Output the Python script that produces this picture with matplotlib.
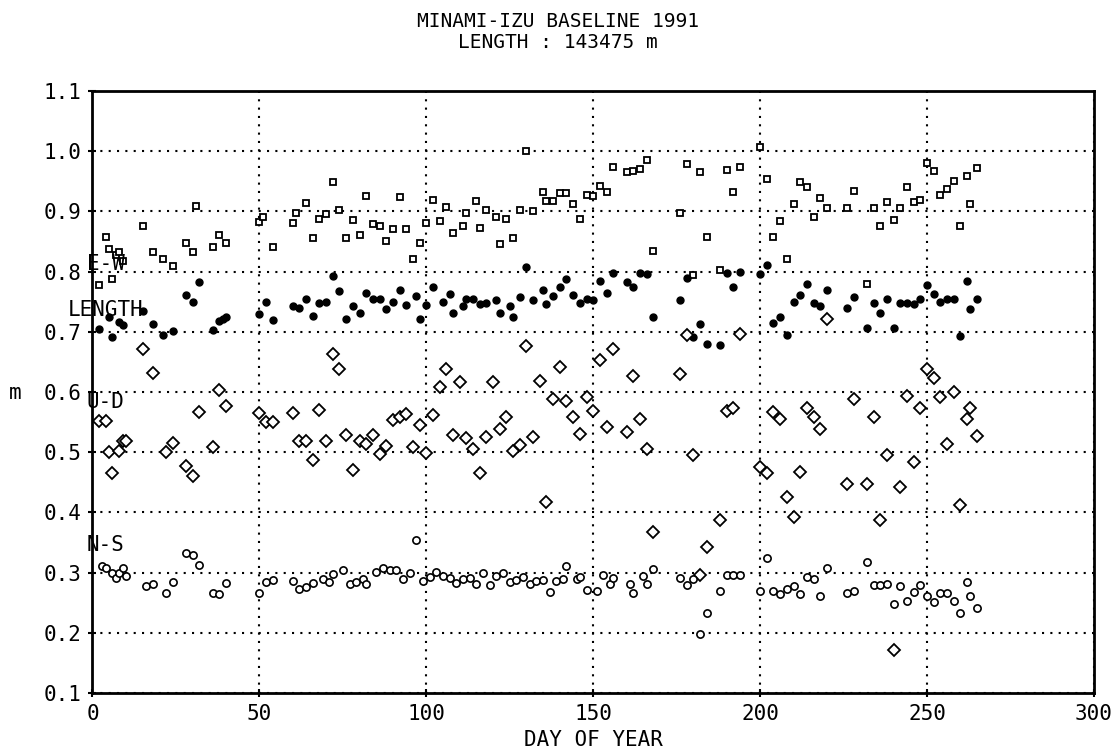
import matplotlib
matplotlib.use("Agg")
from matplotlib import pyplot as plt

# E-W (open squares)
ew_day = [2, 4, 5, 6, 7, 8, 9, 15, 18, 21, 24, 28, 30, 31, 36, 38, 40,
          50, 51, 54, 60, 61, 64, 66, 68, 70, 72, 74, 76, 78, 80, 82, 84, 86,
          88, 90, 92, 94, 96, 98, 100, 102, 104, 106, 108, 111, 112, 115, 116,
          118, 121, 122, 124, 126, 128, 130, 132, 135, 136, 138, 140, 142, 144,
          146, 148, 150, 152, 154, 156, 160, 162, 164, 166, 168, 176, 178, 180,
          182, 184, 188, 190, 192, 194, 200, 202, 204, 206, 208, 210, 212, 214,
          216, 218, 220, 226, 228, 232, 234, 236, 238, 240, 242, 244, 246, 248,
          250, 252, 254, 256, 258, 260, 262, 263, 265]
ew_val = [0.778, 0.858, 0.838, 0.788, 0.828, 0.832, 0.817, 0.875, 0.832, 0.821,
          0.810, 0.847, 0.833, 0.909, 0.841, 0.861, 0.847,
          0.883, 0.890, 0.840, 0.880, 0.898, 0.914, 0.856, 0.887, 0.896, 0.949,
          0.902, 0.855, 0.886, 0.861, 0.926, 0.879, 0.876,
          0.851, 0.871, 0.924, 0.871, 0.821, 0.848, 0.881, 0.918, 0.884, 0.908,
          0.864, 0.876, 0.897, 0.917, 0.872,
          0.902, 0.890, 0.845, 0.887, 0.855, 0.902, 1.000, 0.900, 0.932, 0.917,
          0.917, 0.931, 0.930, 0.912,
          0.888, 0.927, 0.925, 0.942, 0.932, 0.973, 0.965, 0.967, 0.970, 0.985,
          0.834, 0.897, 0.978, 0.795,
          0.965, 0.857, 0.803, 0.968, 0.932, 0.973, 1.006, 0.953, 0.858, 0.884,
          0.821, 0.913, 0.949, 0.941,
          0.890, 0.922, 0.905, 0.905, 0.934, 0.780, 0.905, 0.875, 0.915, 0.886,
          0.905, 0.940, 0.916, 0.918,
          0.981, 0.967, 0.927, 0.937, 0.950, 0.875, 0.959, 0.912, 0.972]

# LENGTH (filled circles)
len_day = [2, 5, 6, 8, 9, 15, 18, 21, 24, 28, 30, 32, 36, 38, 39, 40, 50, 52,
           54, 60, 62, 64, 66, 68, 70, 72, 74, 76, 78, 80, 82, 84, 86, 88, 90,
           92, 94, 97, 98, 100, 102, 105, 107, 108, 111, 112, 114, 116, 118,
           121, 122, 125, 126, 128, 130, 132, 135, 136, 138, 140, 142, 144, 146,
           148, 150, 152, 154, 156, 160, 162, 164, 166, 168, 176, 178, 180, 182,
           184, 188, 190, 192, 194, 200, 202, 204, 206, 208, 210, 212, 214, 216,
           218, 220, 226, 228, 232, 234, 236, 238, 240, 242, 244, 246, 248, 250,
           252, 254, 256, 258, 260, 262, 263, 265]
len_val = [0.705, 0.725, 0.692, 0.717, 0.711, 0.735, 0.713, 0.695, 0.701, 0.761,
           0.750, 0.782, 0.703, 0.718, 0.721, 0.724, 0.729, 0.750,
           0.720, 0.742, 0.739, 0.754, 0.726, 0.748, 0.750, 0.792, 0.768, 0.722,
           0.742, 0.732, 0.764, 0.755, 0.755, 0.738, 0.750,
           0.769, 0.745, 0.759, 0.722, 0.745, 0.775, 0.750, 0.762, 0.731, 0.742,
           0.755, 0.755, 0.746, 0.748,
           0.752, 0.731, 0.743, 0.725, 0.758, 0.808, 0.753, 0.769, 0.746, 0.759,
           0.774, 0.788, 0.761, 0.748,
           0.755, 0.753, 0.784, 0.765, 0.797, 0.783, 0.775, 0.797, 0.796, 0.725,
           0.753, 0.790, 0.691, 0.713,
           0.680, 0.678, 0.797, 0.774, 0.800, 0.796, 0.811, 0.714, 0.724, 0.694,
           0.749, 0.761, 0.779, 0.748,
           0.743, 0.769, 0.740, 0.757, 0.706, 0.748, 0.731, 0.755, 0.707, 0.748,
           0.748, 0.746, 0.755, 0.777,
           0.763, 0.750, 0.754, 0.754, 0.693, 0.785, 0.738, 0.754]

# U-D (open diamonds)
ud_day = [2, 4, 5, 6, 8, 9, 10, 15, 18, 22, 24, 28, 30, 32, 36, 38, 40, 50,
          52, 54, 60, 62, 64, 66, 68, 70, 72, 74, 76, 78, 80, 82, 84, 86, 88,
          90, 92, 94, 96, 98, 100, 102, 104, 106, 108, 110, 112, 114, 116, 118,
          120, 122, 124, 126, 128, 130, 132, 134, 136, 138, 140, 142, 144, 146,
          148, 150, 152, 154, 156, 160, 162, 164, 166, 168, 176, 178, 180, 182,
          184, 188, 190, 192, 194, 200, 202, 204, 206, 208, 210, 212, 214, 216,
          218, 220, 226, 228, 232, 234, 236, 238, 240, 242, 244, 246, 248, 250,
          252, 254, 256, 258, 260, 262, 263, 265]
ud_val = [0.552, 0.552, 0.500, 0.466, 0.502, 0.519, 0.519, 0.672, 0.632, 0.500,
          0.515, 0.477, 0.461, 0.567, 0.508, 0.603, 0.576, 0.566,
          0.551, 0.551, 0.566, 0.519, 0.519, 0.487, 0.570, 0.519, 0.663, 0.639,
          0.529, 0.470, 0.519, 0.513, 0.529, 0.497, 0.511,
          0.553, 0.559, 0.563, 0.509, 0.546, 0.499, 0.562, 0.608, 0.638, 0.529,
          0.616, 0.524, 0.505, 0.465, 0.525,
          0.616, 0.539, 0.558, 0.502, 0.512, 0.676, 0.525, 0.619, 0.418, 0.589,
          0.641, 0.585, 0.558, 0.531,
          0.592, 0.568, 0.653, 0.542, 0.671, 0.534, 0.627, 0.555, 0.506, 0.367,
          0.630, 0.694, 0.495, 0.297,
          0.342, 0.387, 0.568, 0.573, 0.696, 0.475, 0.465, 0.567, 0.555, 0.425,
          0.393, 0.468, 0.573, 0.559,
          0.539, 0.721, 0.447, 0.588, 0.448, 0.559, 0.387, 0.495, 0.171, 0.443,
          0.594, 0.483, 0.574, 0.639,
          0.623, 0.591, 0.514, 0.600, 0.412, 0.556, 0.574, 0.527]

# N-S (open circles)
ns_day = [3, 4, 6, 7, 8, 9, 10, 16, 18, 22, 24, 28, 30, 32, 36, 38, 40, 50, 52,
          54, 60, 62, 64, 66, 69, 71, 72, 75, 77, 79, 81, 82, 85, 87, 89, 91,
          93, 95, 97, 99, 101, 103, 105, 107, 109, 111, 113, 115, 117, 119, 121,
          123, 125, 127, 129, 131, 133, 135, 137, 139, 141, 142, 145, 146, 148,
          151, 153, 155, 156, 161, 162, 165, 166, 168, 176, 178, 180, 182, 184,
          188, 190, 192, 194, 200, 202, 204, 206, 208, 210, 212, 214, 216, 218,
          220, 226, 228, 232, 234, 236, 238, 240, 242, 244, 246, 248, 250, 252,
          254, 256, 258, 260, 262, 263, 265]
ns_val = [0.311, 0.307, 0.299, 0.292, 0.299, 0.307, 0.295, 0.278, 0.282, 0.267,
          0.285, 0.333, 0.330, 0.313, 0.267, 0.264, 0.283, 0.267, 0.285,
          0.288, 0.286, 0.273, 0.276, 0.283, 0.289, 0.285, 0.298, 0.304, 0.282,
          0.284, 0.289, 0.282, 0.301, 0.307, 0.304, 0.304,
          0.289, 0.299, 0.354, 0.286, 0.293, 0.302, 0.294, 0.292, 0.283, 0.289,
          0.292, 0.281, 0.300, 0.279, 0.295,
          0.300, 0.284, 0.288, 0.293, 0.282, 0.287, 0.288, 0.268, 0.287, 0.289,
          0.311, 0.289, 0.293, 0.272,
          0.270, 0.296, 0.281, 0.291, 0.281, 0.267, 0.295, 0.282, 0.306, 0.292,
          0.279, 0.289, 0.198, 0.233,
          0.269, 0.297, 0.296, 0.297, 0.269, 0.325, 0.269, 0.264, 0.273, 0.278,
          0.264, 0.293, 0.290, 0.262,
          0.308, 0.267, 0.270, 0.317, 0.279, 0.279, 0.281, 0.248, 0.278, 0.253,
          0.268, 0.279, 0.261, 0.251,
          0.266, 0.266, 0.253, 0.233, 0.284, 0.261, 0.241]

x_ticks = [0, 50, 100, 150, 200, 250, 300]
y_ticks = [0.1, 0.2, 0.3, 0.4, 0.5, 0.6, 0.7, 0.8, 0.9, 1.0, 1.1]

plt.rcParams["font.family"] = "DejaVu Sans Mono"
plt.rcParams["font.size"] = 15

fig = plt.figure(figsize=(11.14, 7.51), dpi=100)
ax = fig.add_axes([0.083, 0.077, 0.899, 0.802])

ax.plot(ew_day, ew_val, linestyle="none", marker="s", ms=5,
        mfc="white", mec="black", mew=1.3)
ax.plot(len_day, len_val, linestyle="none", marker="o", ms=5,
        mfc="black", mec="black")
ax.plot(ud_day, ud_val, linestyle="none", marker="D", ms=6,
        mfc="white", mec="black", mew=1.3)
ax.plot(ns_day, ns_val, linestyle="none", marker="o", ms=5.2,
        mfc="white", mec="black", mew=1.2)

ax.set_xlim(0, 300)
ax.set_ylim(0.1, 1.1)
ax.set_xticks(x_ticks)
ax.set_yticks(y_ticks)
ax.set_yticklabels(["%.1f" % v for v in y_ticks])
ax.grid(True, color="black", linestyle=(0, (1, 3)), linewidth=1.5)
ax.tick_params(direction="inout", length=6, width=1.5, pad=5)
for s in ax.spines.values():
    s.set_linewidth(2)

# series labels inside the axes
ax.text(4, 0.813, "E-W", ha="center", va="center")
ax.text(4, 0.736, "LENGTH", ha="center", va="center")
ax.text(4, 0.583, "U-D", ha="center", va="center")
ax.text(4, 0.346, "N-S", ha="center", va="center")

ax.set_xlabel("DAY OF YEAR", labelpad=4)
fig.text(0.014, 0.477, "m", ha="center", va="center")

fig.text(0.501, 0.971, "MINAMI-IZU BASELINE 1991", ha="center", va="center",
         fontsize=14)
fig.text(0.501, 0.944, "LENGTH : 143475 m", ha="center", va="center",
         fontsize=14)

fig.savefig("out.png", dpi=100)
plt.close()
